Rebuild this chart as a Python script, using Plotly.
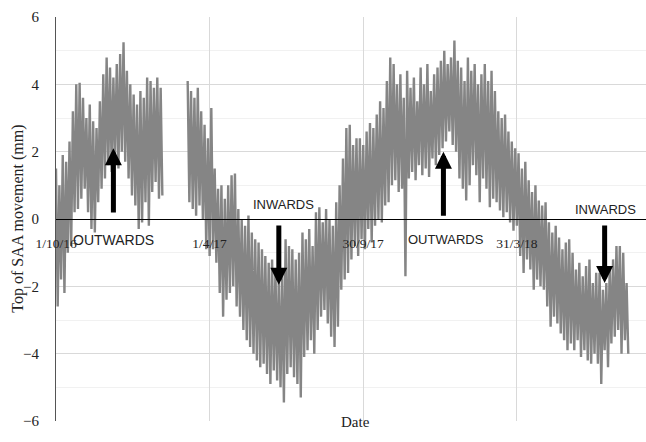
import datetime as dt
import plotly.graph_objects as go

# ---- data ----
start_date = dt.date(2016, 10, 1)
step_days = 4
upper = [1.5, 1.0, 1.9, 1.7, 2.3, 3.2, 4.0, 4.05, 3.6, 3.0, 3.4, 2.9, 2.7, 3.5, 4.3, 4.8,
         4.5, 4.2, 4.6, 4.9, 5.25, 4.4, 4.0, 3.7, 3.4, 3.8, 3.6, 4.2, 4.1, 3.9, 4.2, 3.9,
         None, None, None, None, None, None, None,
         4.1, 3.8, 3.6, 3.9, 3.2, 2.8, 2.4, 3.3, 1.5, 0.9, 1.0, 0.6, 1.0, 1.3, 1.35, 0.3,
         0.0, -0.2, 0.1, -0.4, -0.6, -0.7, -0.9, -1.1, -1.3, -1.2, -1.5, -1.7, -1.6, -0.6,
         -0.8, -0.9, -1.2, -1.0, -0.4, -0.6, -0.3, -0.8, 0.2, 0.35, -0.1, 0.3, 0.0, -0.2,
         0.5, 1.0, 1.8, 2.7, 2.8, 2.2, 2.4, 2.4, 2.2, 2.6, 2.85, 2.7, 3.1, 3.5, 3.3, 4.1,
         4.8, 4.6, 4.0, 4.3, 3.6, 4.4, 3.9, 4.2, 3.5, 4.5, 4.0, 4.6, 3.8, 4.3, 4.5, 4.7,
         5.0, 4.6, 4.8, 5.3, 4.7, 4.5, 4.1, 4.8, 4.4, 4.6, 4.0, 4.3, 4.6, 4.1, 4.4, 3.8,
         3.2, 3.0, 3.1, 2.6, 2.3, 2.1, 1.95, 1.5, 1.7, 1.15, 0.8, 1.0, 0.55, 0.4, 0.5, -0.1,
         -0.4, -0.2, -0.55, -0.9, -0.7, -0.6, -1.0, -1.5, -1.3, -1.7, -1.4, -1.2, -1.9, -1.6,
         -1.6, -2.1, -1.9, -1.4, -1.2, -0.8, -0.8, -1.0, -1.9]
lower = [-2.6, -1.8, -2.2, -1.0, -0.8, 0.2, 0.3, 0.6, 0.9, 0.2, -0.3, -0.4, 0.5, 0.9, 1.2, 1.6,
         1.4, 1.8, 1.5, 2.0, 1.7, 1.2, 0.7, 0.4, -0.3, -0.1, 0.5, -0.2, 0.8, 1.1, 0.6, 0.7,
         None, None, None, None, None, None, None,
         0.5, 0.3, 0.1, 0.4, 0.0, -0.9, -1.1, -0.9, -1.3, -2.2, -2.9, -2.4, -2.2, -2.0, -2.6, -2.9,
         -3.3, -3.6, -3.8, -4.0, -4.2, -4.4, -4.3, -4.6, -4.9, -4.5, -4.8, -5.0, -5.45, -4.6,
         -4.4, -4.7, -4.9, -5.3, -4.1, -3.9, -3.6, -4.0, -3.3, -2.9, -2.7, -3.1, -3.5, -3.8,
         -3.2, -2.1, -1.8, -1.6, -1.2, -0.8, -1.1, -0.6, -0.9, -0.3, -0.7, -0.2, 0.0, -0.1, 0.4, 0.5,
         1.0, 1.15, 0.8, 0.9, -1.7, 1.2, 1.4, 1.15, 1.6, 1.3, 1.5, 1.25, 1.8, 1.6, 1.9, 2.1,
         2.3, 2.6, 2.2, 2.0, 1.2, 0.9, 0.55, 1.0, 1.6, 1.3, 0.5, 1.2, 0.9, 0.35, 0.6, 0.5,
         0.25, 0.05, 0.2, -0.1, -0.35, -0.2, -1.1, -1.6, -1.2, -1.5, -2.1, -1.8, -2.0, -2.1, -2.6, -3.2,
         -2.9, -3.1, -3.4, -3.6, -3.9, -3.7, -3.9, -3.6, -4.1, -3.9, -4.2, -4.3, -4.0, -4.3,
         -4.9, -3.9, -4.4, -3.7, -3.5, -3.3, -4.0, -3.6, -4.0]
tick_dates = ["2016-10-01", "2017-04-01", "2017-09-30", "2018-03-31"]
tick_labels = ["1/10/16", "1/4/17", "30/9/17", "31/3/18"]
x_end = "2018-08-31"

# ---- build zig-zag series ----
xs, ys = [], []
for i, (hi, lo) in enumerate(zip(upper, lower)):
    d = start_date + dt.timedelta(days=step_days * i)
    xs.append(d)
    ys.append(hi)
    xs.append(d + dt.timedelta(days=step_days // 2))
    ys.append(lo)

fig = go.Figure()
fig.add_trace(go.Scatter(x=xs, y=ys, mode="lines",
                         line=dict(color="#858585", width=2.4),
                         connectgaps=False, showlegend=False, hoverinfo="skip"))

serif = "Liberation Serif, Times New Roman, serif"
sans = "Liberation Sans, Arial, sans-serif"

fig.update_layout(
    width=646, height=442,
    margin=dict(l=56, r=0, t=17, b=21),
    paper_bgcolor="white", plot_bgcolor="white",
    showlegend=False,
    xaxis=dict(type="date", range=[start_date.isoformat(), x_end],
               tickvals=tick_dates, ticktext=tick_labels,
               anchor="free", position=0.5,
               showline=True, linecolor="black", linewidth=1,
               showgrid=True, gridcolor="#d9d9d9", gridwidth=1,
               ticks="", ticklabelstandoff=12,
               tickfont=dict(family=serif, size=13.5, color="#222"),
               zeroline=False),
    yaxis=dict(range=[-6, 6], tickvals=[-6, -4, -2, 0, 2, 4, 6],
               showline=True, linecolor="#555", linewidth=1,
               showgrid=True, gridcolor="#d9d9d9", gridwidth=1,
               minor=dict(dtick=1, showgrid=True, gridcolor="#f1f1f1", gridwidth=1),
               zeroline=False, ticks="", ticklabelstandoff=13,
               tickfont=dict(family=serif, size=15, color="#222")),
)

annotations = [
    dict(text="Top of SAA movement (mm)", xref="paper", yref="paper",
         x=-0.065, y=0.5, xanchor="center", yanchor="middle", textangle=-90,
         showarrow=False, font=dict(family=serif, size=16, color="#222")),
    dict(text="Date", xref="paper", yref="paper", x=0.507, y=0, yshift=-11,
         xanchor="center", showarrow=False, font=dict(family=serif, size=15, color="#222")),
    dict(text="OUTWARDS", x="2016-12-08", y=-0.62, showarrow=False,
         font=dict(family=sans, size=14, color="#222")),
    dict(text="INWARDS", x="2017-06-27", y=0.42, showarrow=False,
         font=dict(family=sans, size=13, color="#222")),
    dict(text="OUTWARDS", x="2018-01-06", y=-0.62, showarrow=False,
         font=dict(family=sans, size=13, color="#222")),
    dict(text="INWARDS", x="2018-07-14", y=0.28, showarrow=False,
         font=dict(family=sans, size=13, color="#222")),
]
arrows = [
    ("2016-12-08", 2.1, 0.15),
    ("2017-06-22", -1.95, -0.15),
    ("2018-01-03", 2.0, 0.05),
    ("2018-07-13", -1.9, -0.15),
]
for xd, tip, tail in arrows:
    annotations.append(dict(x=xd, y=tip, ax=xd, ay=tail, xref="x", yref="y",
                            axref="x", ayref="y", text="", showarrow=True,
                            arrowhead=2, arrowsize=0.68, arrowwidth=5,
                            arrowcolor="black"))
fig.update_layout(annotations=annotations)

fig.write_html("out.html")
